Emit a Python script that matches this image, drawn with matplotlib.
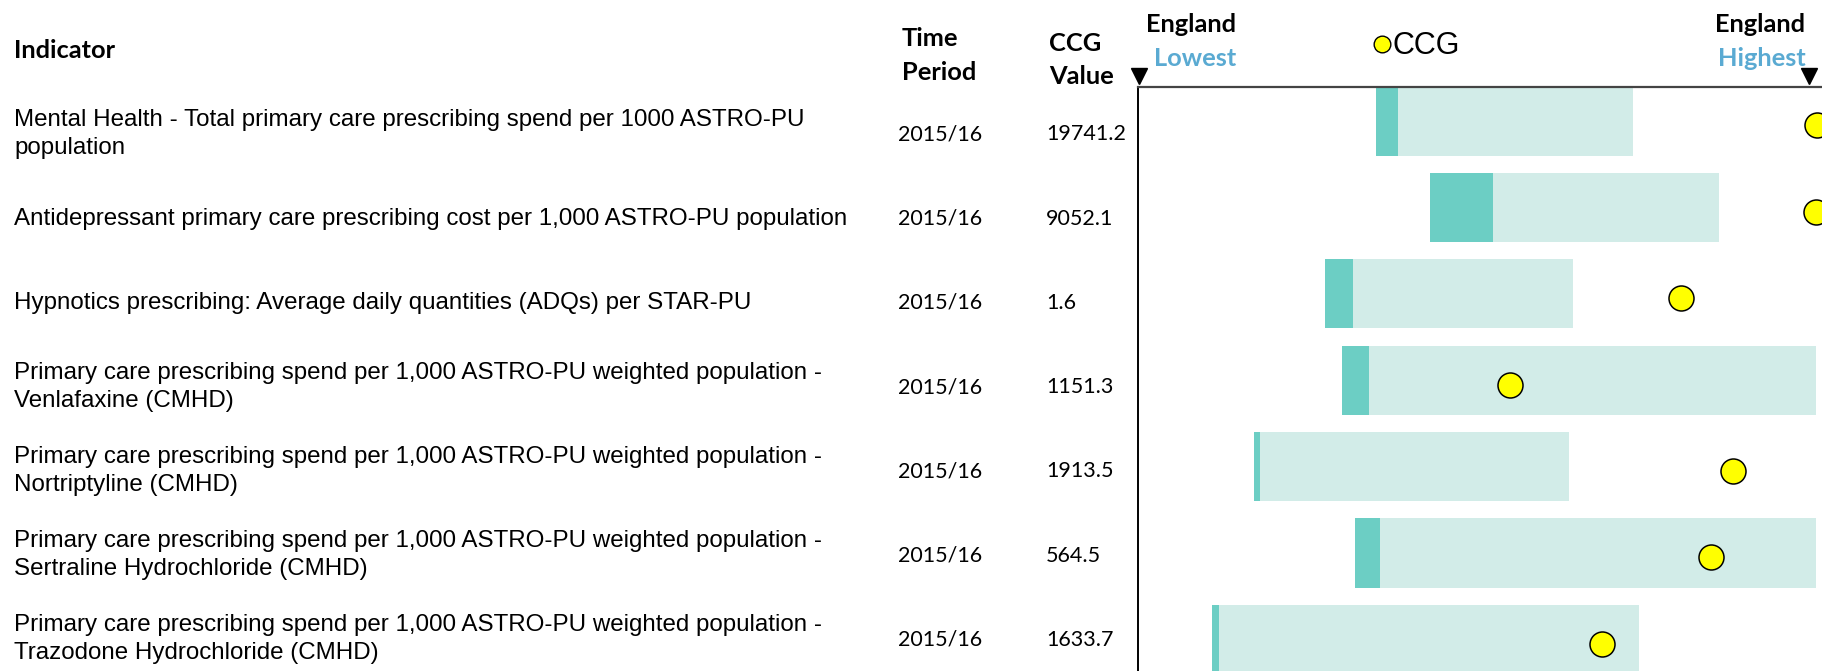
import matplotlib
matplotlib.use("Agg")
import matplotlib.pyplot as plt
from matplotlib.lines import Line2D
import numpy as np

# ---------------- data ----------------
indicators = [
    "Mental Health - Total primary care prescribing spend per 1000 ASTRO-PU\npopulation",
    "Antidepressant primary care prescribing cost per 1,000 ASTRO-PU population",
    "Hypnotics prescribing: Average daily quantities (ADQs) per STAR-PU",
    "Primary care prescribing spend per 1,000 ASTRO-PU weighted population -\nVenlafaxine (CMHD)",
    "Primary care prescribing spend per 1,000 ASTRO-PU weighted population -\nNortriptyline (CMHD)",
    "Primary care prescribing spend per 1,000 ASTRO-PU weighted population -\nSertraline Hydrochloride (CMHD)",
    "Primary care prescribing spend per 1,000 ASTRO-PU weighted population -\nTrazodone Hydrochloride (CMHD)",
]
time_periods = ["2015/16"] * 7
ccg_values = ["19741.2", "9052.1", "1.6", "1151.3", "1913.5", "564.5", "1633.7"]

# positions on the England range scale (0 = England lowest, 100 = England highest)
bar_start = [35.4, 43.4, 27.8, 30.3, 17.1, 32.2, 10.9]
dark_end = [38.6, 52.8, 31.9, 34.3, 18.1, 36.0, 12.0]
bar_end = [73.8, 86.5, 64.8, 101.1, 64.2, 101.1, 74.6]
ccg_pos = [101.2, 101.1, 80.9, 55.3, 88.6, 85.3, 69.1]

# ---------------- layout ----------------
W, H = 1822, 671
DPI = 100
fig = plt.figure(figsize=(W / DPI, H / DPI), dpi=DPI)
fig.patch.set_facecolor("white")

CAL = ["Lato", "DejaVu Sans"]
ARI = ["Liberation Sans", "DejaVu Sans"]
DARK = "#6CCEC4"
LIGHT = "#D2ECE8"
BLUE = "#5AAAD2"


def T(x, y, s, **kw):
    return fig.text(x / W, 1 - y / H, s, **kw)


# chart axes (pixel geometry)
ax_left_px, ax_top_px = 1138, 86.5
x0_px, x100_px = 1139, 1809
row0_px, row_step = 121.0, 86.4
ax = fig.add_axes([ax_left_px / W, 0, 1 - ax_left_px / W, 1 - ax_top_px / H])
px_per_unit = (x100_px - x0_px) / 100.0
ax.set_xlim((ax_left_px - x0_px) / px_per_unit, (W - x0_px) / px_per_unit)
ax.set_ylim((H - row0_px) / row_step, (ax_top_px - row0_px) / row_step)

rows = np.arange(len(indicators))
bs = np.array(bar_start)
de = np.array(dark_end)
be = np.array(bar_end)
ax.barh(rows, de - bs, left=bs, height=0.80, color=DARK, linewidth=0)
ax.barh(rows, be - de, left=de, height=0.80, color=LIGHT, linewidth=0)
ax.plot(ccg_pos, rows + 0.05, linestyle="none", marker="o", ms=18,
        mfc="#FFFF00", mec="black", mew=1.1, zorder=5)

for s in ["right", "bottom"]:
    ax.spines[s].set_visible(False)
ax.spines["left"].set_color("black")
ax.spines["left"].set_linewidth(1.4)
ax.spines["top"].set_color("#444444")
ax.spines["top"].set_linewidth(1.6)
ax.set_xticks([])
ax.set_yticks([])

# England lowest / highest markers
tri_y = (75.5 - row0_px) / row_step
ax.plot([0, 100], [tri_y, tri_y], linestyle="none", marker="v", ms=11.5,
        color="black", clip_on=False)

# header texts
HB = dict(fontsize=18.3, fontweight="bold", family=CAL, va="baseline")
T(1146, 32, "England", **HB)
T(1154, 66, "Lowest", color=BLUE, **HB)
T(1715, 32, "England", **HB)
T(1718, 66, "Highest", color=BLUE, **HB)

fig.add_artist(Line2D([1382 / W], [1 - 44 / H], transform=fig.transFigure,
                      marker="o", ms=12, mfc="#FFFF00", mec="black", mew=1.0,
                      linestyle="none"))
T(1393, 54, "CCG", fontsize=22, family=ARI, va="baseline")

T(14, 58, "Indicator", **HB)
T(902, 46, "Time", **HB)
T(902, 80, "Period", **HB)
T(1049, 51, "CCG", **HB)
T(1049, 84, "Value", **HB)

# rows of text
text_row0, text_step = 132.5, 84.2
for i, name in enumerate(indicators):
    c = text_row0 + text_step * i
    lines = name.split("\n")
    if len(lines) == 1:
        T(14, c + 8, lines[0], fontsize=17.4, family=ARI, va="baseline")
    else:
        T(14, c - 6.5, lines[0], fontsize=17.4, family=ARI, va="baseline")
        T(14, c + 21.5, lines[1], fontsize=17.4, family=ARI, va="baseline")
    T(898, c + 8, time_periods[i], fontsize=15.5, family=CAL, va="baseline")
    T(1046, c + 8, ccg_values[i], fontsize=15.5, family=CAL, va="baseline")

fig.savefig("out.png", dpi=DPI, facecolor="white")
